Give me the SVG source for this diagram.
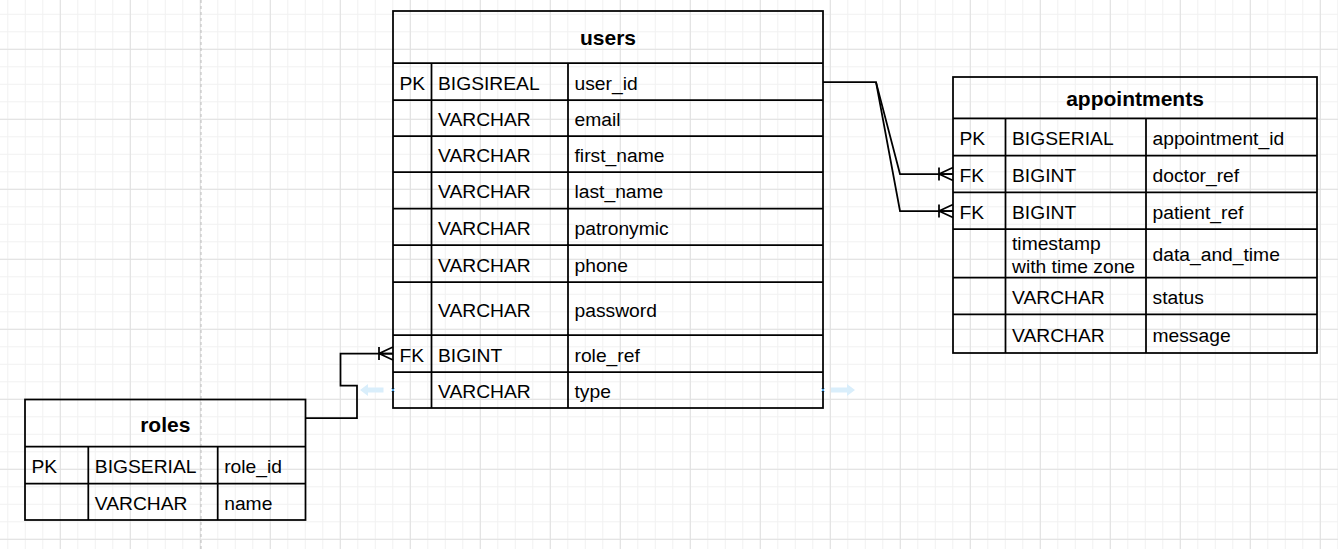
<svg xmlns="http://www.w3.org/2000/svg" width="1338" height="549" viewBox="0 0 1338 549">
<style>
.ln{fill:none;stroke:#000;stroke-width:1.75}
.t{font-family:"Liberation Sans",Arial,Helvetica,sans-serif;font-size:19.25px;fill:#000}
.h{font-family:"Liberation Sans",Arial,Helvetica,sans-serif;font-size:21px;font-weight:bold;fill:#000;text-anchor:middle}
.conn{fill:none;stroke:#000;stroke-width:1.75}
.hover{fill:#d9eefb}
.hx{fill:none;stroke:#4aa6ee;stroke-width:1}
</style>
<defs>
<pattern id="gMinor" patternUnits="userSpaceOnUse" x="7.3" y="13.8" width="17.5" height="17.5">
<path d="M0,0.5H17.5M0.5,0V17.5" fill="none" stroke="#f1f1f1" stroke-width="1"/>
</pattern>
<pattern id="gMajor" patternUnits="userSpaceOnUse" x="59.8" y="48.8" width="70" height="70">
<path d="M0,0.5H70M0.5,0V70" fill="none" stroke="#e0e0e0" stroke-width="1"/>
</pattern>
<marker id="crow" markerUnits="userSpaceOnUse" markerWidth="18" markerHeight="20" viewBox="-2 -10 18 20" refX="14" refY="0" orient="auto" overflow="visible">
<path d="M0,-6.5V6.5M0,0L14,-6.5M0,0L14,6.5M0,0H14" fill="none" stroke="#000" stroke-width="1.75"/>
</marker>
</defs>
<g id="background">
<rect x="0" y="0" width="1338" height="549" fill="#fff"/>
<rect x="0" y="0" width="1338" height="549" fill="url(#gMinor)"/>
<rect x="0" y="0" width="1338" height="549" fill="url(#gMajor)"/>
<line x1="201" y1="0" x2="201" y2="549" stroke="#bdbdbd" stroke-width="1" stroke-dasharray="3 3"/>
</g>
<g id="connectors">
<path class="conn" d="M305.5,418H357V385.5H340.5V353.5H393" marker-end="url(#crow)"/>
<path class="conn" d="M823,82H876L900,174H953" marker-end="url(#crow)"/>
<path class="conn" d="M876,82L900,211H953" marker-end="url(#crow)"/>
</g>
<g id="users">
<rect class="ln" x="393" y="11" width="430" height="397"/>
<path class="ln" d="M393,63H823M393,100H823M393,136H823M393,172H823M393,208.5H823M393,245H823M393,282H823M393,335H823M393,372H823M431.5,63V408M568,63V408"/>
<text class="h" x="608" y="45">users</text>
<text class="t" x="399.5" y="89.5">PK</text><text class="t" x="438" y="89.5">BIGSIREAL</text><text class="t" x="574.5" y="89.5">user_id</text>
<text class="t" x="438" y="126">VARCHAR</text><text class="t" x="574.5" y="126">email</text>
<text class="t" x="438" y="162">VARCHAR</text><text class="t" x="574.5" y="162">first_name</text>
<text class="t" x="438" y="198.3">VARCHAR</text><text class="t" x="574.5" y="198.3">last_name</text>
<text class="t" x="438" y="234.8">VARCHAR</text><text class="t" x="574.5" y="234.8">patronymic</text>
<text class="t" x="438" y="271.5">VARCHAR</text><text class="t" x="574.5" y="271.5">phone</text>
<text class="t" x="438" y="316.5">VARCHAR</text><text class="t" x="574.5" y="316.5">password</text>
<text class="t" x="399.5" y="361.5">FK</text><text class="t" x="438" y="361.5">BIGINT</text><text class="t" x="574.5" y="361.5">role_ref</text>
<text class="t" x="438" y="398">VARCHAR</text><text class="t" x="574.5" y="398">type</text>
</g>
<g id="appointments">
<rect class="ln" x="953" y="77" width="364" height="276"/>
<path class="ln" d="M953,118.3H1317M953,155.7H1317M953,192.3H1317M953,229H1317M953,277.7H1317M953,314.3H1317M1005.5,118.3V353M1146,118.3V353"/>
<text class="h" x="1135" y="105.5">appointments</text>
<text class="t" x="959.5" y="145">PK</text><text class="t" x="1012" y="145">BIGSERIAL</text><text class="t" x="1152.5" y="145">appointment_id</text>
<text class="t" x="959.5" y="182">FK</text><text class="t" x="1012" y="182">BIGINT</text><text class="t" x="1152.5" y="182">doctor_ref</text>
<text class="t" x="959.5" y="218.7">FK</text><text class="t" x="1012" y="218.7">BIGINT</text><text class="t" x="1152.5" y="218.7">patient_ref</text>
<text class="t" x="1012" y="250">timestamp</text><text class="t" x="1012" y="272.5">with time zone</text><text class="t" x="1152.5" y="261.3">data_and_time</text>
<text class="t" x="1012" y="304">VARCHAR</text><text class="t" x="1152.5" y="304">status</text>
<text class="t" x="1012" y="341.7">VARCHAR</text><text class="t" x="1152.5" y="341.7">message</text>
</g>
<g id="roles">
<rect class="ln" x="25" y="399.5" width="280.5" height="120.5"/>
<path class="ln" d="M25,446.5H305.5M25,483.5H305.5M88.3,446.5V520M217.7,446.5V520"/>
<text class="h" x="165.3" y="431.5">roles</text>
<text class="t" x="31.5" y="473">PK</text><text class="t" x="94.8" y="473">BIGSERIAL</text><text class="t" x="224.2" y="473">role_id</text>
<text class="t" x="94.8" y="509.8">VARCHAR</text><text class="t" x="224.2" y="509.8">name</text>
</g>
<g id="hover-handles">
<polygon class="hover" points="360,390 368,384 368,387.5 383.5,387.5 383.5,392.5 368,392.5 368,396"/>
<polygon class="hover" points="855,390 847,384 847,387.5 831,387.5 831,392.5 847,392.5 847,396"/>
<path class="hx" d="M391.5,388.5l3,3m0,-3l-3,3M821.5,388.5l3,3m0,-3l-3,3"/>
</g>
</svg>
